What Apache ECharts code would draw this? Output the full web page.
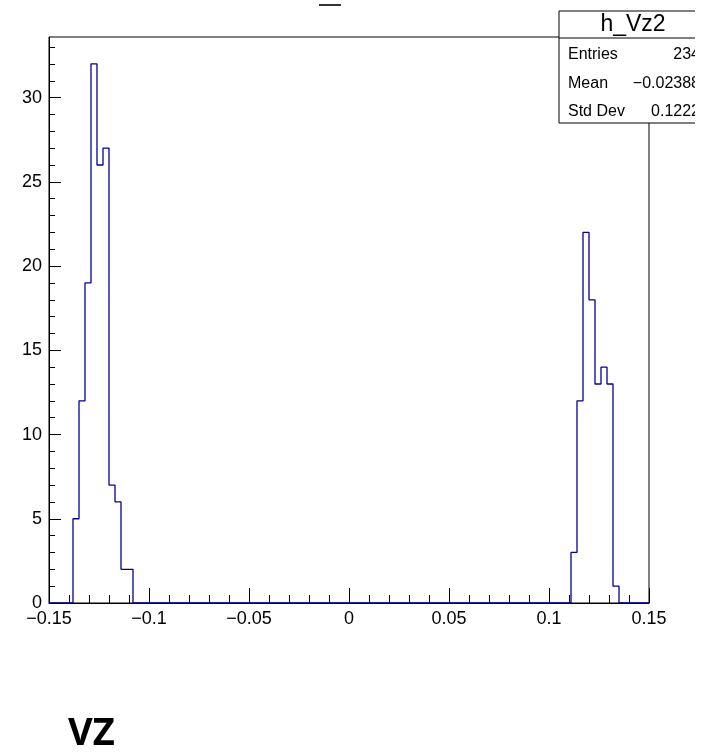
<!DOCTYPE html>
<html>
<head>
<meta charset="utf-8">
<script src="https://cdn.jsdelivr.net/npm/echarts@6/dist/echarts.min.js"></script>
<style>
html,body{margin:0;padding:0;background:#fff;}
#chart{width:709px;height:753px;}
</style>
</head>
<body>
<div id="chart"></div>
<script>
// Histogram definition
const histName = "h_Vz2";
const xLow = -0.15, xHigh = 0.15, nBins = 100;
// Non-empty bins (counts)
const leftPeakFirstBin = 4;
const leftPeakCounts = [5, 12, 19, 32, 26, 27, 7, 6, 2, 2];
const rightPeakFirstBin = 87;
const rightPeakCounts = [3, 12, 22, 18, 13, 14, 13, 1];
// Axis ticks / labels
const xMajorTicks = [-0.15, -0.1, -0.05, 0, 0.05, 0.1, 0.15];
const yMajorTicks = [0, 5, 10, 15, 20, 25, 30];
const yMax = 33.6;
// Stats box
const statLabels = ["Entries", "Mean", "Std Dev"];
const statValues = ["234", "\u22120.02388", "0.1222"];
const bottomTitle = "VZ";

// Build counts array
const counts = new Array(nBins).fill(0);
leftPeakCounts.forEach((c, i) => counts[leftPeakFirstBin + i] = c);
rightPeakCounts.forEach((c, i) => counts[rightPeakFirstBin + i] = c);
const bw = (xHigh - xLow) / nBins;
const stepData = [];
for (let i = 0; i < nBins; i++) {
  const lo = +(xLow + i * bw).toFixed(6), hi = +(xLow + (i + 1) * bw).toFixed(6);
  stepData.push([lo, counts[i]], [hi, counts[i]]);
}
// minor ticks
const xMinorTicks = [];
for (let k = -15; k <= 15; k++) if (k % 5 !== 0) xMinorTicks.push(+(k * 0.01).toFixed(2));
const yMinorTicks = [];
for (let k = 1; k <= 33; k++) if (k % 5 !== 0) yMinorTicks.push(k);

const font = '"Liberation Sans", Arial, Helvetica, sans-serif';
const fmt = v => String(+v.toFixed(4)).replace('-', '\u2212');

const chart = echarts.init(document.getElementById('chart'), null, {renderer: 'canvas'});
const boxL = 559, boxR = 700, boxT = 11, boxSep = 38, boxB = 123;
const rowY = [55, 84, 112];
const graphics = [
  {type: 'rect', shape: {x: boxL, y: boxT, width: 200, height: boxB - boxT}, style: {fill: '#fff', stroke: null}, z: 100},
  {type: 'polyline', shape: {points: [[boxR, boxT], [boxL, boxT], [boxL, boxB], [boxR, boxB]]}, style: {stroke: '#000', lineWidth: 1, fill: null}, z: 101},
  {type: 'line', shape: {x1: boxL, y1: boxSep, x2: boxR, y2: boxSep}, style: {stroke: '#000', lineWidth: 1}, z: 101},
  {type: 'text', style: {text: histName, x: 633, y: 25, font: '23px ' + font, fill: '#000', align: 'center', verticalAlign: 'middle'}, z: 102},
  {type: 'line', shape: {x1: 319, y1: 5, x2: 341, y2: 5}, style: {stroke: '#333', lineWidth: 2}},
  {type: 'text', style: {text: bottomTitle, x: 68, y: 734, font: 'bold 38px "Open Sans", "Noto Sans", sans-serif', fill: '#000', align: 'left', verticalAlign: 'middle'}},
  // canvas edge of the original picture
  {type: 'rect', shape: {x: 695, y: 0, width: 20, height: 130}, style: {fill: '#fff', stroke: null}, z: 110}
];
statLabels.forEach((s, i) => {
  graphics.push({type: 'text', style: {text: s, x: 568, y: rowY[i], font: '16px ' + font, fill: '#000', align: 'left', verticalAlign: 'middle'}, z: 102});
  graphics.push({type: 'text', style: {text: statValues[i], x: 700, y: rowY[i], font: '16px ' + font, fill: '#000', align: 'right', verticalAlign: 'middle'}, z: 102});
});

chart.setOption({
  animation: false,
  backgroundColor: '#fff',
  grid: {left: 49, right: 60, top: 37, bottom: 150, show: true, borderColor: '#000', borderWidth: 1, backgroundColor: 'transparent'},
  xAxis: [
    {type: 'value', min: xLow, max: xHigh, position: 'bottom',
     axisLine: {show: true, onZero: false, lineStyle: {color: '#000', width: 1}},
     axisTick: {show: true, inside: true, length: 15, customValues: xMajorTicks, lineStyle: {color: '#000'}},
     axisLabel: {show: true, customValues: xMajorTicks, formatter: fmt, fontFamily: font, fontSize: 18, color: '#000', margin: 7},
     splitLine: {show: false}},
    {type: 'value', min: xLow, max: xHigh, position: 'bottom', gridIndex: 0,
     axisLine: {show: false, onZero: false},
     axisTick: {show: true, inside: true, length: 8, customValues: xMinorTicks, lineStyle: {color: '#000'}},
     axisLabel: {show: false}, splitLine: {show: false}}
  ],
  yAxis: [
    {type: 'value', min: 0, max: yMax, position: 'left',
     axisLine: {show: true, onZero: false, lineStyle: {color: '#000', width: 1}},
     axisTick: {show: true, inside: true, length: 12, customValues: yMajorTicks, lineStyle: {color: '#000'}},
     axisLabel: {show: true, customValues: yMajorTicks, fontFamily: font, fontSize: 18, color: '#000', margin: 7},
     splitLine: {show: false}},
    {type: 'value', min: 0, max: yMax, position: 'left', gridIndex: 0,
     axisLine: {show: false, onZero: false},
     axisTick: {show: true, inside: true, length: 6, customValues: yMinorTicks, lineStyle: {color: '#000'}},
     axisLabel: {show: false}, splitLine: {show: false}}
  ],
  series: [{
    type: 'line', xAxisIndex: 0, yAxisIndex: 0, data: stepData,
    showSymbol: false, symbol: 'none',
    lineStyle: {color: '#000099', width: 1.3}, z: 5
  }],
  graphic: graphics
});
</script>
</body>
</html>
